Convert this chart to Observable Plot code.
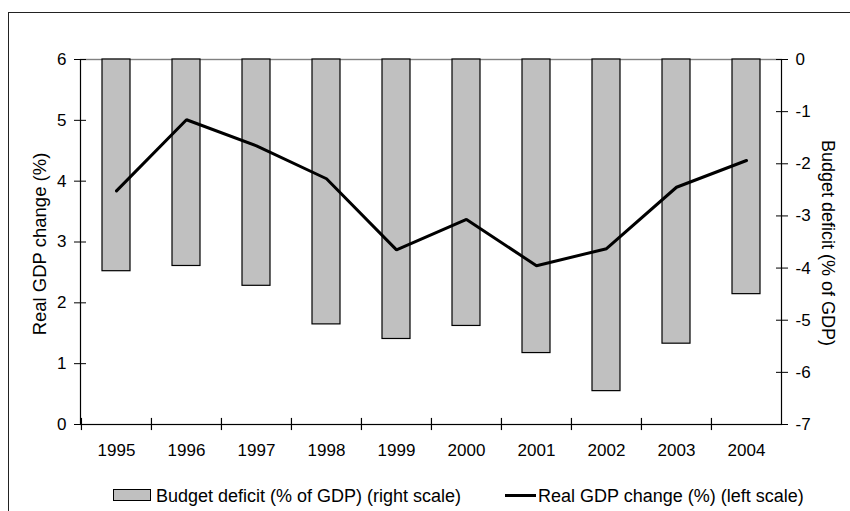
<!DOCTYPE html>
<html><head><meta charset="utf-8">
<script src="https://cdn.jsdelivr.net/npm/d3@7"></script>
<script src="https://cdn.jsdelivr.net/npm/@observablehq/plot@0.6"></script>
<style>
body{margin:0;background:#fff;}
#wrap{position:relative;width:850px;height:511px;overflow:hidden;font-family:"Liberation Sans",Arial,sans-serif;color:#000;}
#frame{position:absolute;left:8px;top:12px;width:900px;height:600px;border-top:1px solid #222;border-left:1px solid #222;}
#chart{position:absolute;left:0;top:0;}
.sw-box{position:absolute;top:489px;left:113px;width:36px;height:10px;background:#c0c0c0;border:1px solid #000;}
.sw-line{position:absolute;top:494px;left:505px;width:31px;height:3px;background:#000;}
.lg-text{position:absolute;top:486px;font-size:18px;line-height:normal;white-space:nowrap;}
</style></head><body>
<div id="wrap">
  <div id="frame"></div>
  <div id="chart"></div>
  <div class="sw-box"></div>
  <div class="lg-text" id="lg1" style="left:156px"></div>
  <div class="sw-line"></div>
  <div class="lg-text" id="lg2" style="left:538px"></div>
</div>
<script>
// ---- data ----
const years = [1995, 1996, 1997, 1998, 1999, 2000, 2001, 2002, 2003, 2004];
const gdpChange = [3.84, 5.01, 4.58, 4.04, 2.87, 3.37, 2.61, 2.89, 3.90, 4.34];
const budgetDeficit = [-4.06, -3.96, -4.34, -5.08, -5.36, -5.11, -5.63, -6.36, -5.45, -4.50];
const leftTicks = [0, 1, 2, 3, 4, 5, 6];
const rightTicks = [0, -1, -2, -3, -4, -5, -6, -7];
const leftLabel = "Real GDP change (%)";
const rightLabel = "Budget deficit (% of GDP)";
const legendBars = "Budget deficit (% of GDP) (right scale)";
const legendLine = "Real GDP change (%) (left scale)";

const table = years.map((year, i) => ({year, gdp: gdpChange[i], deficit: budgetDeficit[i]}));

// right scale (-7..0) mapped onto left scale (0..6)
const toLeft = d3.scaleLinear().domain([-7, 0]).range([0, 6]);

const width = 850, marginLeft = 80, marginRight = 69;
const step = (width - marginLeft - marginRight) / years.length;

const chart = Plot.plot({
  width, height: 470,
  marginLeft, marginRight, marginTop: 59, marginBottom: 46,
  style: {fontFamily: '"Liberation Sans", Arial, sans-serif', fontSize: "17px", color: "#000", background: "transparent", overflow: "visible"},
  x: {type: "band", domain: years, paddingInner: 0.6, paddingOuter: 0.3, label: null},
  y: {domain: [0, 6], label: null},
  marks: [
    Plot.frame({stroke: "#000", strokeWidth: 1.2}),
    Plot.ruleY([6], {stroke: "#808080", strokeWidth: 1.2}),
    Plot.barY(table, {x: "year", y1: toLeft(0), y2: d => toLeft(d.deficit), fill: "#c0c0c0", stroke: "#000", strokeWidth: 1.2}),
    Plot.line(table, {x: "year", y: "gdp", stroke: "#000", strokeWidth: 3, strokeLinejoin: "miter"}),
    // left axis
    Plot.axisY(leftTicks, {anchor: "left", tickSize: 12, dx: 6, tickPadding: 8, text: d => String(d), label: null}),
    // right axis
    Plot.axisY(rightTicks, {anchor: "right", y: d => toLeft(d), tickSize: 12, dx: -6, tickPadding: 8, text: d => String(d), label: null}),
    // x axis labels
    Plot.axisX({tickSize: 0, tickPadding: 19, tickFormat: d => String(d), label: null}),
    // x boundary ticks
    Plot.ruleX(years, {x: d => d, dx: -step / 2, y1: -0.1, y2: 0.1, stroke: "#000", strokeWidth: 1.2}),
    // axis titles
    Plot.text([leftLabel], {frameAnchor: "left", text: d => d, rotate: -90, dx: -40, dy: 2, textAnchor: "middle", lineAnchor: "middle", fontSize: 18.5}),
    Plot.text([rightLabel], {frameAnchor: "right", text: d => d, rotate: 90, dx: 46, dy: 1, textAnchor: "middle", lineAnchor: "middle", fontSize: 18})
  ]
});
document.getElementById("chart").appendChild(chart);
document.getElementById("lg1").textContent = legendBars;
document.getElementById("lg2").textContent = legendLine;
</script>
</body></html>
